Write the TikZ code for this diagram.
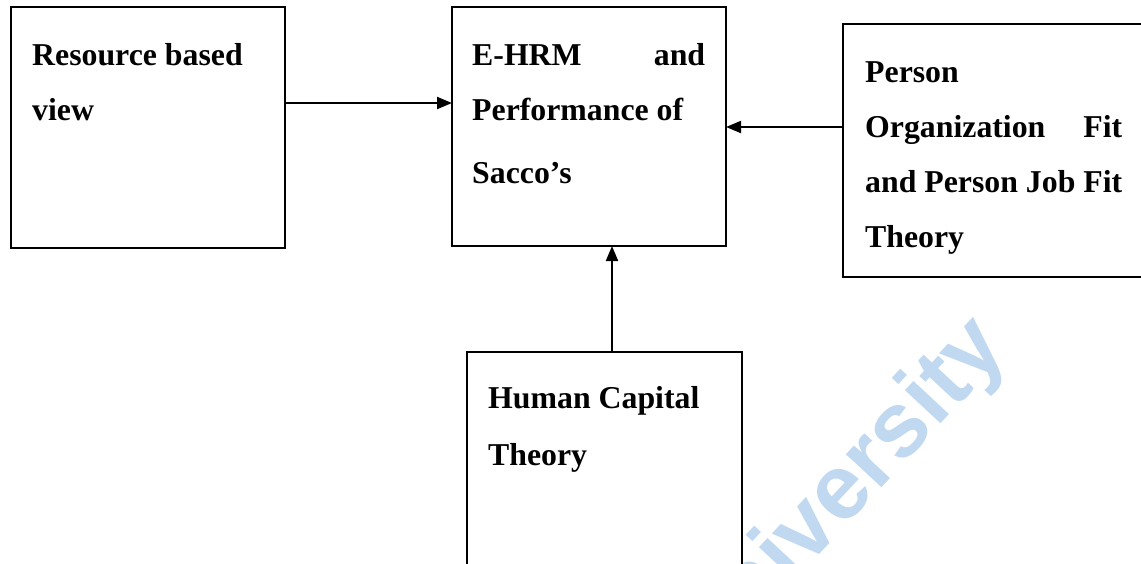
\documentclass[tikz,border=0pt]{standalone}
\usepackage{fontspec}
\setmainfont{Liberation Serif}
\newfontfamily\wmfont{Liberation Sans}
\usetikzlibrary{arrows.meta}
\definecolor{wm}{RGB}{192,216,240}
\begin{document}
\begin{tikzpicture}[x=1pt,y=-1pt,
  box/.style={draw, line width=1.8pt, inner sep=0pt, outer sep=0pt, anchor=north west},
  lbl/.style={anchor=base west, inner sep=0pt, font=\fontsize{31.8}{38}\selectfont\bfseries},
  arr/.style={line width=2pt, -{Triangle[length=15pt,width=12pt]}},
  wmark/.style={anchor=base east, inner sep=0pt, text=wm, rotate=47, font=\fontsize{92}{100}\selectfont\wmfont\bfseries}]
\useasboundingbox (0,0) rectangle (1141,563);
\clip (0,0) rectangle (1141,563);
% watermark
\node[wmark] (wmtext) at (1010,350) {University};
% boxes
\node[box, minimum width=274pt, minimum height=241pt] (rbv) at (11,7) {};
\node[box, minimum width=274pt, minimum height=239pt] (perf) at (452,7) {};
\node[box, minimum width=320pt, minimum height=253pt] (pof) at (843,24) {};
\node[box, minimum width=275pt, minimum height=240pt] (hc) at (467,352) {};
% texts
\node[lbl] (t1a) at (32,65) {Resource based};
\node[lbl] (t1b) at (32,120) {view};
\node[lbl] (t2a) at (472,65) {\makebox[233pt][s]{E-HRM\hfill and}};
\node[lbl] (t2b) at (472,120) {Performance of};
\node[lbl] (t2c) at (472,183) {Sacco’s};
\node[lbl] (t3a) at (865,82) {Person};
\node[lbl] (t3b) at (865,137) {\makebox[257pt][s]{Organization\hfill Fit}};
\node[lbl] (t3c) at (865,192) {and Person Job Fit};
\node[lbl] (t3d) at (865,247) {Theory};
\node[lbl] (t4a) at (488,408) {Human Capital};
\node[lbl] (t4b) at (488,465) {Theory};
% connectors
\coordinate (ya) at (0,103);
\coordinate (yb) at (0,127);
\coordinate (xc) at (612,0);
\draw[arr] (rbv.east |- ya) -- (perf.west |- ya);
\draw[arr] (pof.west |- yb) -- (perf.east |- yb);
\draw[arr] (hc.north -| xc) -- (perf.south -| xc);
\end{tikzpicture}
\end{document}
